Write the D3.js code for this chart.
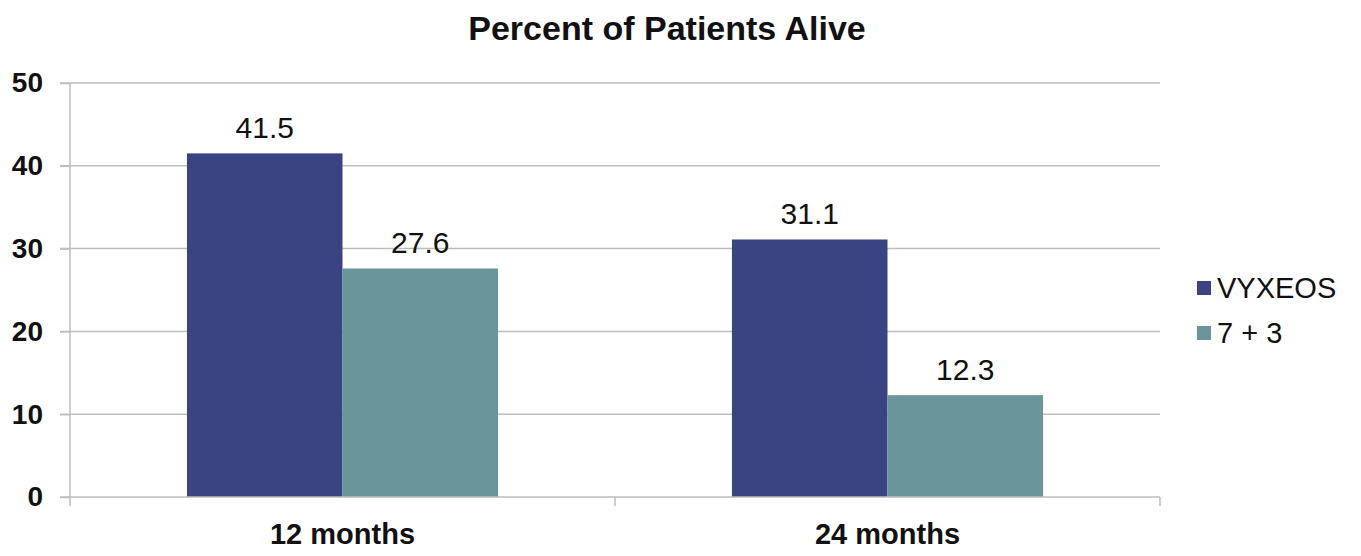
<!DOCTYPE html>
<html><head><meta charset="utf-8">
<script src="https://cdn.jsdelivr.net/npm/d3@7"></script>
<style>body{margin:0;background:#fff}svg{display:block}text{font-family:"Liberation Sans",Arial,sans-serif}</style>
</head><body><svg id="c" width="1361" height="556"></svg>
<script>
const categories = ["12 months", "24 months"];
const seriesNames = ["VYXEOS", "7 + 3"];
const vyxeos = [41.5, 31.1];
const sevenPlusThree = [27.6, 12.3];
const yTicks = [0, 10, 20, 30, 40, 50];
const colors = ["#3A4482", "#6A969B"];
const title = "Percent of Patients Alive";

const svg = d3.select("#c");
const mLeft = 70, mRight = 1160, mTop = 83, mBottom = 497;
const y = d3.scaleLinear().domain([0, 50]).range([mBottom, mTop]);
const x0 = d3.scaleBand().domain(categories).range([mLeft, mRight]).padding(0);
const x1 = d3.scaleBand().domain(seriesNames).range([0, x0.bandwidth()]).paddingInner(0).paddingOuter(0.752);
const values = [vyxeos, sevenPlusThree];

// gridlines
svg.append("g").selectAll("line").data(yTicks.filter(t => t > 0)).join("line")
  .attr("x1", mLeft - 10).attr("x2", mRight).attr("y1", d => y(d)).attr("y2", d => y(d))
  .attr("stroke", "#BDBDBD").attr("stroke-width", 1.5);

// y axis
const yAxis = d3.axisLeft(y).tickValues(yTicks).tickSize(10).tickPadding(17);
const gy = svg.append("g").attr("transform", `translate(${mLeft},0)`).call(yAxis);
gy.select(".domain").attr("stroke", "#BDBDBD").attr("stroke-width", 1.5).attr("d", `M0,${mTop}V${mBottom}`);
gy.selectAll(".tick line").attr("stroke", "#BDBDBD").attr("stroke-width", 1.5);
gy.selectAll(".tick text").attr("font-size", 28).attr("font-weight", "bold").attr("fill", "#111")
  .style("font-family", '"Liberation Sans",Arial,sans-serif');

// bars
const groups = svg.append("g").selectAll("g").data(categories).join("g")
  .attr("transform", d => `translate(${x0(d)},0)`);
groups.selectAll("rect").data((c, i) => seriesNames.map((s, j) => ({s, v: values[j][i], j}))).join("rect")
  .attr("x", d => x1(d.s)).attr("width", x1.bandwidth())
  .attr("y", d => y(d.v)).attr("height", d => y(0) - y(d.v))
  .attr("fill", d => colors[d.j]);
groups.selectAll("text").data((c, i) => seriesNames.map((s, j) => ({s, v: values[j][i], j}))).join("text")
  .attr("x", d => x1(d.s) + x1.bandwidth() / 2).attr("y", d => y(d.v) - 15)
  .attr("text-anchor", "middle").attr("font-size", 30).attr("fill", "#111")
  .text(d => d.v.toFixed(1));

// x axis
const xAxis = d3.axisBottom(x0).tickSize(0).tickPadding(26);
const gx = svg.append("g").attr("transform", `translate(0,${mBottom})`).call(xAxis);
gx.select(".domain").attr("stroke", "#BDBDBD").attr("stroke-width", 1.5).attr("d", `M${mLeft - 10},0H${mRight}`);
gx.selectAll(".tick text").attr("font-size", 29).attr("font-weight", "bold").attr("fill", "#111")
  .style("font-family", '"Liberation Sans",Arial,sans-serif');
const bounds = [mLeft, ...categories.map(c => x0(c) + x0.bandwidth())];
gx.append("g").selectAll("line").data(bounds).join("line")
  .attr("x1", d => d).attr("x2", d => d).attr("y1", 0).attr("y2", 9)
  .attr("stroke", "#BDBDBD").attr("stroke-width", 1.5);

// title
svg.append("text").attr("x", 667).attr("y", 40).attr("text-anchor", "middle")
  .attr("font-size", 34).attr("font-weight", "bold").attr("fill", "#111").text(title);

// legend
const lg = svg.append("g").selectAll("g").data(seriesNames).join("g")
  .attr("transform", (d, i) => `translate(1197,${288 + i * 45})`);
lg.append("rect").attr("x", 0).attr("y", -7).attr("width", 14).attr("height", 14).attr("fill", (d, i) => colors[i]);
lg.append("text").attr("x", 20).attr("y", 10).attr("font-size", 29).attr("fill", "#111").text(d => d);
</script></body></html>
